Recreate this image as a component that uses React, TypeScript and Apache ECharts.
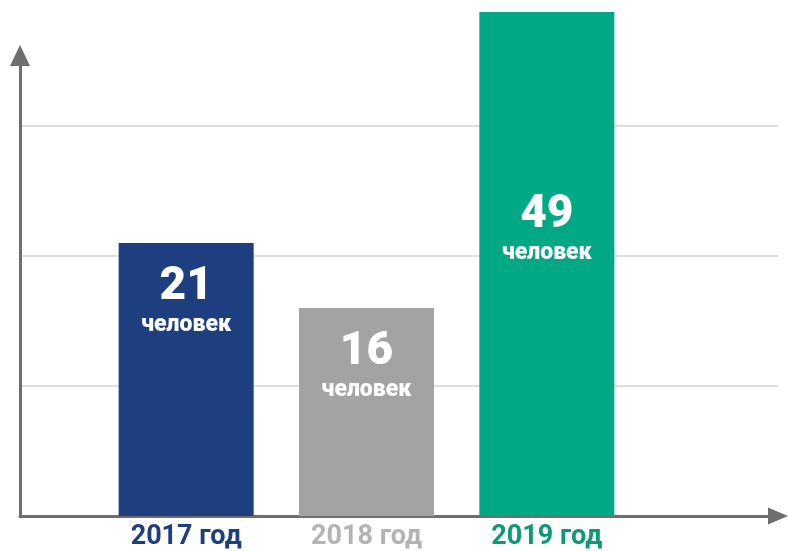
import React, { useEffect, useRef } from "react";
import * as echarts from "echarts";

const categories = ["2017 год", "2018 год", "2019 год"];
const values = [21, 16, 49];
const unitLabel = "человек";
const barColors = ["#1d3f80", "#a3a3a3", "#00a884"];
const labelColors = ["#1d3f80", "#b3b3b3", "#0a9a78"];

export default function App() {
  const ref = useRef<HTMLDivElement>(null);
  useEffect(() => {
    if (!ref.current) return;
    document.body.style.margin = "0";
    const chart = echarts.init(ref.current, null, { renderer: "svg" });
    const pxPerUnit = 13;
    const bottom = 35;
    const H = 551;
    const top0 = 55.5;
    const top1 = 12;
    const max0 = (H - bottom - top0) / pxPerUnit;
    const max1 = (H - bottom - top1) / pxPerUnit;
    const axisColor = "#6e6e6e";
    const labelOffsets = [10, 10, 169];

    chart.setOption({
      animation: false,
      grid: [
        { left: 20, right: 10, top: top0, bottom },
        { left: 96, right: 151, top: top1, bottom },
      ],
      xAxis: [
        {
          gridIndex: 0,
          type: "value",
          min: 0,
          max: 1,
          axisLabel: { show: false },
          axisTick: { show: false },
          splitLine: { show: false },
          axisLine: {
            show: true,
            lineStyle: { color: axisColor, width: 3 },
            symbol: ["none", "triangle"],
            symbolSize: [17, 20],
          },
        },
        {
          gridIndex: 1,
          type: "category",
          data: categories.map((c, i) => ({
            value: c,
            textStyle: { color: labelColors[i] },
          })),
          axisLine: { show: false },
          axisTick: { show: false },
          axisLabel: {
            interval: 0,
            hideOverlap: false,
            margin: 5,
            fontFamily: "Roboto, sans-serif",
            fontWeight: "bold",
            fontSize: 27,
            lineHeight: 27,
          },
        },
      ],
      yAxis: [
        {
          gridIndex: 0,
          type: "value",
          min: 0,
          max: max0,
          interval: 10,
          axisLabel: { show: false },
          axisTick: { show: false },
          splitLine: {
            show: true,
            showMinLine: false,
            showMaxLine: false,
            lineStyle: { color: "#d2d2d2", width: 1.5 },
          },
          axisLine: {
            show: true,
            lineStyle: { color: axisColor, width: 3 },
            symbol: ["none", "triangle"],
            symbolSize: [20, 21],
          },
        },
        {
          gridIndex: 1,
          type: "value",
          min: 0,
          max: max1,
          show: false,
          splitLine: { show: false },
        },
      ],
      series: [
        {
          type: "bar",
          xAxisIndex: 1,
          yAxisIndex: 1,
          barWidth: 135,
          clip: true,
          data: values.map((v, i) => ({
            value: v,
            itemStyle: { color: barColors[i] },
            label: { offset: [0, labelOffsets[i]] },
          })),
          label: {
            show: true,
            position: "insideTop",
            distance: 5,
            formatter: (p: any) => `{a|${p.value}}\n{b|${unitLabel}}`,
            rich: {
              a: {
                fontFamily: "Roboto",
                fontWeight: 900,
                fontSize: 46,
                lineHeight: 50,
                color: "#ffffff",
              },
              b: {
                fontFamily: "Roboto",
                fontWeight: 900,
                fontSize: 23,
                lineHeight: 30,
                color: "#ffffff",
              },
            },
          },
        },
      ],
    });
    return () => chart.dispose();
  }, []);
  return (
    <div
      ref={ref}
      style={{ position: "fixed", left: 0, top: 0, width: 788, height: 551 }}
    />
  );
}
